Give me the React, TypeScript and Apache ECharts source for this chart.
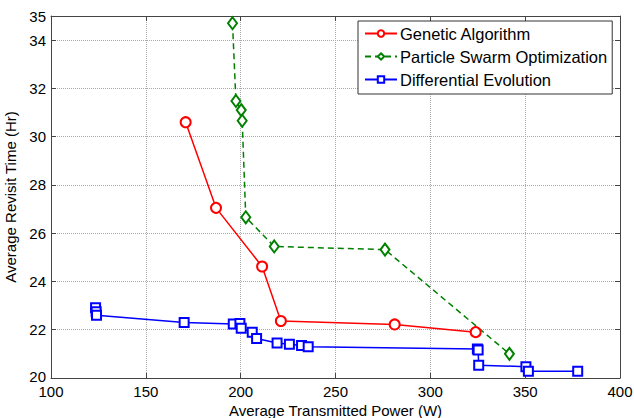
import React, { useEffect, useRef } from "react";
import * as echarts from "echarts";

const seriesNames = ["Genetic Algorithm", "Particle Swarm Optimization", "Differential Evolution"];

const gaPoints: [number, number][] = [
  [171, 30.6], [187, 27.05], [211.3, 24.62], [221.2, 22.36], [281.2, 22.22], [323.9, 21.9],
];

const psoPoints: [number, number][] = [
  [195.7, 34.7], [197.5, 31.48], [200.3, 31.1], [200.8, 30.66], [202.7, 26.66], [217.7, 25.45], [276.1, 25.32], [341.7, 21.0],
];

const dePoints: [number, number][] = [
  [123.5, 22.91], [123.8, 22.75], [124, 22.6], [170.2, 22.3], [196.1, 22.24], [199.6, 22.26], [200.3, 22.06],
  [206.1, 21.9], [208.4, 21.64], [219.2, 21.45], [225.7, 21.4], [232.1, 21.35], [235.6, 21.3],
  [324.8, 21.2], [325.2, 21.16], [325.5, 20.53], [350.4, 20.47], [351.7, 20.28], [377.7, 20.28],
];

const xMin = 100, xMax = 400, xStep = 50;
const yMin = 20, yMax = 35, yStep = 2;

const FONT = "Liberation Sans, Arial, sans-serif";

export default function App() {
  const ref = useRef<HTMLDivElement>(null);
  useEffect(() => {
    if (!ref.current) return;
    const chart = echarts.init(ref.current, undefined, { renderer: "svg" });
    const frame = { show: true, lineStyle: { color: "#444", width: 1 } };
    const grid = { show: true, lineStyle: { color: "#aaa", type: "dotted" as const, width: 1 } };
    const tick = { show: true, inside: true, length: 5, lineStyle: { color: "#444" } };
    chart.setOption({
      animation: false,
      backgroundColor: "#fff",
      textStyle: { fontFamily: FONT },
      grid: { left: 51, right: 14, top: 16, bottom: 40, outerBoundsMode: "none", containLabel: false },
      legend: {
        orient: "vertical",
        left: 358,
        top: 21,
        padding: [4, 5, 6, 6],
        itemWidth: 32,
        itemHeight: 8,
        itemGap: 6,
        backgroundColor: "#fff",
        borderColor: "#333",
        borderWidth: 1,
        borderRadius: 0,
        textStyle: { fontFamily: FONT, fontSize: 16.5, color: "#000", lineHeight: 16, padding: [0, 0, 0, -2] },
        data: seriesNames,
      },
      xAxis: [
        {
          type: "value", min: xMin, max: xMax, interval: xStep,
          name: "Average Transmitted Power (W)", nameLocation: "middle", nameGap: 22,
          nameTextStyle: { fontFamily: FONT, fontSize: 15, color: "#000" },
          axisLine: frame, axisTick: tick,
          axisLabel: { fontFamily: FONT, fontSize: 15, color: "#000", margin: 7, lineHeight: 12 },
          splitLine: grid,
        },
        {
          type: "value", position: "top", min: xMin, max: xMax, interval: xStep,
          axisLine: frame, axisTick: tick,
          axisLabel: { show: false }, splitLine: { show: false },
        },
      ],
      yAxis: [
        {
          type: "value", min: yMin, max: yMax, interval: yStep,
          name: "Average Revisit Time (Hr)", nameLocation: "middle", nameGap: 25,
          nameTextStyle: { fontFamily: FONT, fontSize: 15, color: "#000" },
          axisLine: frame, axisTick: tick,
          axisLabel: {
            fontFamily: FONT, fontSize: 15, color: "#000", margin: 5, lineHeight: 11,
            formatter: (v: number) => (v === yMin ? "{lo|" + v + "}" : String(v)),
            rich: { lo: { fontFamily: FONT, fontSize: 15, color: "#000", lineHeight: 11, padding: [0, 0, 4, 0] } },
          },
          splitLine: grid,
        },
        {
          type: "value", position: "right", min: yMin, max: yMax, interval: yStep,
          axisLine: frame, axisTick: tick,
          axisLabel: { show: false }, splitLine: { show: false },
        },
      ],
      series: [
        {
          name: seriesNames[0], type: "line", data: gaPoints,
          symbol: "emptyCircle", symbolSize: 10,
          lineStyle: { color: "#ff0000", width: 1.5 },
          itemStyle: { color: "#ff0000", borderWidth: 1.2 },
        },
        {
          name: seriesNames[1], type: "line", data: psoPoints,
          symbol: "emptyDiamond", symbolSize: [9, 12],
          lineStyle: { color: "#008000", width: 1.5, type: [6, 4] },
          itemStyle: { color: "#008000", borderWidth: 1.2 },
        },
        {
          name: seriesNames[2], type: "line", data: dePoints,
          symbol: "emptyRect", symbolSize: 9,
          lineStyle: { color: "#0000ff", width: 1.5 },
          itemStyle: { color: "#0000ff", borderWidth: 1.2 },
        },
      ],
    });
    return () => chart.dispose();
  }, []);
  return <div ref={ref} style={{ width: 634, height: 418, position: "fixed", left: 0, top: 0 }} />;
}
